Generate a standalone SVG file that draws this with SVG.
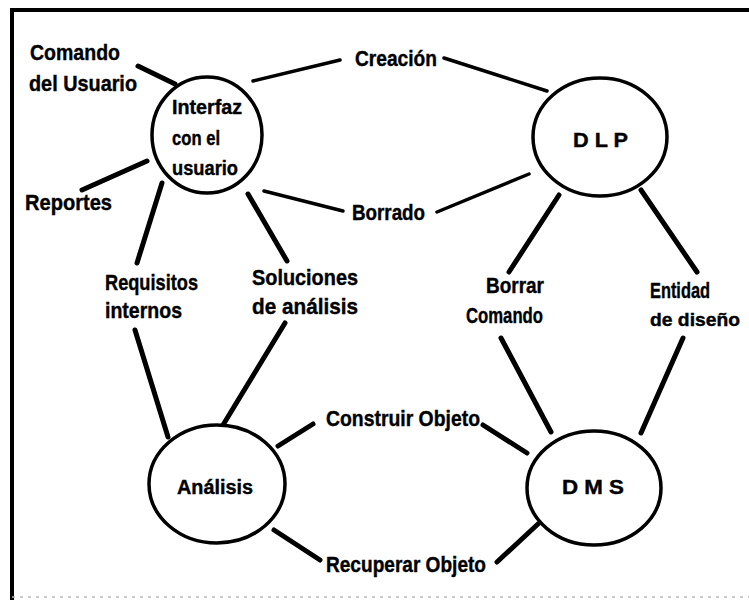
<svg xmlns="http://www.w3.org/2000/svg" width="749" height="608" viewBox="0 0 749 608">
<style>
.lbl{font-family:"Liberation Sans Narrow","Liberation Sans",Arial,sans-serif;font-weight:bold;font-size:22px;fill:#000;stroke:#000;stroke-width:0.4}
.in{font-size:20px}
.sm{font-size:19px}
.node{fill:#fff;stroke:#000;stroke-width:3.5}
.c{stroke:#000;stroke-width:5;stroke-linecap:round;fill:none}
.t{stroke-width:3.5}
</style>
<rect width="749" height="608" fill="#fff"/>
<g id="frame">
<path d="M12 600 V10 H749" fill="none" stroke="#000" stroke-width="4"/>
<path d="M12 597 H749" fill="none" stroke="#bbb" stroke-width="1.5" stroke-dasharray="3 5"/>
</g>
<g id="connectors">
<line class="c" x1="138" y1="66" x2="175" y2="84"/>
<line class="c t" x1="340" y1="60" x2="253" y2="81"/>
<line class="c t" x1="444" y1="58" x2="547" y2="91"/>
<line class="c" x1="82" y1="190" x2="147" y2="161"/>
<line class="c t" x1="343" y1="211" x2="264" y2="191"/>
<line class="c t" x1="437" y1="212" x2="529" y2="174"/>
<line class="c" x1="137" y1="263" x2="162" y2="183"/>
<line class="c" x1="287" y1="261" x2="248" y2="194"/>
<line class="c" x1="135" y1="330" x2="168" y2="437"/>
<line class="c" x1="285" y1="323" x2="223" y2="425"/>
<line class="c" x1="559" y1="195" x2="509" y2="272"/>
<line class="c" x1="641" y1="190" x2="697" y2="272"/>
<line class="c" x1="501" y1="338" x2="551" y2="432"/>
<line class="c" x1="683" y1="338" x2="641" y2="433"/>
<line class="c" x1="313" y1="424" x2="278" y2="446"/>
<line class="c" x1="483" y1="425" x2="527" y2="453"/>
<line class="c" x1="274" y1="530" x2="320" y2="560"/>
<line class="c" x1="497" y1="562" x2="538" y2="524"/>
</g>
<g id="interfaz">
<ellipse class="node" cx="207" cy="135" rx="55" ry="58"/>
<text class="lbl in" x="172" y="114" textLength="70" lengthAdjust="spacingAndGlyphs">Interfaz</text>
<text class="lbl in" x="172" y="145" textLength="48" lengthAdjust="spacingAndGlyphs">con el</text>
<text class="lbl in" x="172" y="175" textLength="66" lengthAdjust="spacingAndGlyphs">usuario</text>
</g>
<g id="dlp">
<ellipse class="node" cx="600" cy="137" rx="67" ry="59"/>
<text class="lbl in" x="573" y="147" textLength="55" lengthAdjust="spacingAndGlyphs">D L P</text>
</g>
<g id="analisis">
<ellipse class="node" cx="217" cy="484" rx="68" ry="59"/>
<text class="lbl in" x="177" y="494" textLength="76" lengthAdjust="spacingAndGlyphs">Análisis</text>
</g>
<g id="dms">
<ellipse class="node" cx="594" cy="488" rx="67" ry="57"/>
<text class="lbl in" x="562" y="494" textLength="62" lengthAdjust="spacingAndGlyphs">D M S</text>
</g>
<g id="labels">
<text class="lbl" x="30" y="60" textLength="90" lengthAdjust="spacingAndGlyphs">Comando</text>
<text class="lbl" x="29" y="91" textLength="108" lengthAdjust="spacingAndGlyphs">del Usuario</text>
<text class="lbl" x="355" y="66" textLength="82" lengthAdjust="spacingAndGlyphs">Creación</text>
<text class="lbl" x="25" y="210" textLength="87" lengthAdjust="spacingAndGlyphs">Reportes</text>
<text class="lbl" x="352" y="220" textLength="73" lengthAdjust="spacingAndGlyphs">Borrado</text>
<text class="lbl" x="105" y="290" textLength="93" lengthAdjust="spacingAndGlyphs">Requisitos</text>
<text class="lbl" x="105" y="318" textLength="77" lengthAdjust="spacingAndGlyphs">internos</text>
<text class="lbl" x="252" y="285" textLength="106" lengthAdjust="spacingAndGlyphs">Soluciones</text>
<text class="lbl" x="252" y="314" textLength="106" lengthAdjust="spacingAndGlyphs">de análisis</text>
<text class="lbl" x="486" y="293" textLength="58" lengthAdjust="spacingAndGlyphs">Borrar</text>
<text class="lbl" x="466" y="323" textLength="77" lengthAdjust="spacingAndGlyphs">Comando</text>
<text class="lbl" x="650" y="298" textLength="60" lengthAdjust="spacingAndGlyphs">Entidad</text>
<text class="lbl sm" x="650" y="326" textLength="90" lengthAdjust="spacingAndGlyphs">de diseño</text>
<text class="lbl" x="326" y="426" textLength="154" lengthAdjust="spacingAndGlyphs">Construir Objeto</text>
<text class="lbl" x="326" y="572" textLength="160" lengthAdjust="spacingAndGlyphs">Recuperar Objeto</text>
</g>
</svg>
